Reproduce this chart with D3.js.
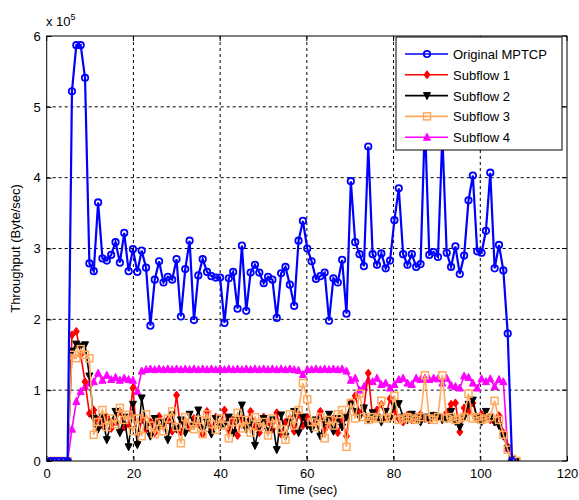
<!DOCTYPE html>
<html><head><meta charset="utf-8">
<script src="https://cdn.jsdelivr.net/npm/d3@7"></script>
<style>body{margin:0;background:#fff}svg{display:block;font-family:"Liberation Sans",Arial,sans-serif}</style>
</head><body><svg id="c" width="579" height="500"></svg>
<script>
// Data (throughput in units of 1e5 Byte/sec), sampled every ~1 s starting at t0
const t0 = 0.8, dt = 1.005;
const xTicks = [0, 20, 40, 60, 80, 100, 120];
const yTicks = [0, 1, 2, 3, 4, 5, 6];
const seriesNames = ["Original MPTCP", "Subflow 1", "Subflow 2", "Subflow 3", "Subflow 4"];
const original = [0,0,0,0,0, 5.22,5.87,5.87,5.41,2.79, 2.68,3.65,2.86,2.83,2.91, 3.09,2.80,3.22,2.68,2.99,
 2.67,2.97,2.73,1.91,2.56, 2.82,2.52,2.60,2.56,2.85, 2.04,2.71,3.11,1.99,2.62, 2.85,2.67,2.61,2.59,2.59,
 1.95,2.58,2.67,2.15,3.04, 2.12,2.66,2.77,2.66,2.51, 2.60,2.56,2.02,2.65,2.74, 2.49,2.19,3.11,3.39,3.00,
 2.82,2.57,2.61,2.66,1.98, 2.58,2.52,2.84,2.08,3.95, 3.09,2.92,2.75,4.44,2.92, 2.77,2.93,2.72,2.83,3.40,
 3.85,2.92,2.77,2.92,2.74, 2.78,4.80,2.91,2.95,2.88, 4.60,2.94,2.74,3.03,2.64, 2.90,3.68,4.03,2.96,2.94,
 3.25,4.07,2.72,3.05,2.69, 1.80,0];
const subflow1 = [0,0,0,0,0, 1.78,1.83,1.50,1.12,0.67, 0.72,0.58,0.50,0.62,0.46, 0.55,0.70,0.48,0.52,1.03,
 0.25,0.60,0.45,0.55,0.40, 0.63,0.50,0.58,0.42,0.93, 0.41,0.55,0.47,0.60,0.52, 0.38,0.70,0.45,0.62,0.50,
 0.72,0.44,0.58,0.36,0.60, 0.52,0.70,0.48,0.40,0.62, 0.55,0.45,0.68,0.38,0.55, 0.60,0.42,0.66,0.50,0.62,
 0.48,0.56,0.70,0.44,0.52, 0.60,0.40,0.58,0.35,0.82, 0.92,0.68,0.75,1.24,0.60, 0.72,0.80,0.62,0.88,0.70,
 0.60,0.55,0.65,0.58,0.62, 0.66,0.60,0.58,0.64,0.62, 0.60,0.68,0.80,0.82,0.41, 0.75,0.70,0.82,0.60,0.66,
 0.62,0.58,0.55,0.64,0.40, 0.20,0.04,0.0];
const subflow2 = [0,0,0,0,0, 1.55,1.65,1.62,1.64,1.20, 0.60,0.45,0.62,0.30,0.55, 0.70,0.40,0.62,0.20,0.80,
 0.23,0.89,0.50,0.35,0.60, 0.48,0.55,0.30,0.65,0.45, 0.58,0.40,0.66,0.50,0.72, 0.44,0.55,0.38,0.60,0.48,
 0.52,0.62,0.40,0.58,0.79, 0.45,0.55,0.22,0.50,0.60, 0.42,0.58,0.16,0.65,0.35, 0.55,0.70,0.40,0.62,0.50,
 0.45,0.58,0.35,0.55,0.66, 0.42,0.60,0.48,0.62,0.80, 0.70,0.62,0.75,0.58,0.68, 0.62,0.55,0.70,0.60,0.78,
 0.81,0.62,0.58,0.66,0.60, 0.55,0.62,0.58,0.64,0.62, 0.58,0.60,0.70,0.56,0.48, 0.62,0.80,0.86,0.60,0.55,
 0.70,0.62,0.55,0.50,0.35, 0.18,0.02,0.0];
const subflow3 = [0,0,0,0,0, 1.50,1.45,1.58,1.50,1.45, 0.37,0.55,0.72,0.48,0.60, 0.52,0.75,0.58,0.65,0.42,
 0.60,0.35,0.66,0.50,0.38, 0.55,0.42,0.60,0.70,0.48, 0.25,0.62,0.50,0.45,0.58, 0.38,0.66,0.52,0.44,0.60,
 0.50,0.32,0.55,0.68,0.46, 0.58,0.40,0.62,0.48,0.55, 0.36,0.60,0.52,0.45,0.30, 0.66,0.50,0.72,1.10,0.87,
 0.55,0.48,0.62,0.32,0.58, 0.50,0.66,0.72,0.20,0.82, 0.60,0.95,0.62,0.58,0.62, 0.60,0.85,0.60,0.62,0.92,
 0.58,0.60,0.62,0.60,0.58, 0.62,1.21,0.60,0.58,0.62, 1.21,0.60,0.62,0.58,0.60, 0.62,0.95,0.60,0.62,0.58,
 0.60,0.62,0.85,0.58,0.37, 0.16,0.03,0.0];
const subflow4 = [0,0,0,0,0, 0.45,0.84,0.98,1.05,1.10, 1.12,1.24,1.14,1.21,1.15, 1.18,1.14,1.17,1.15,1.14,
 0.98,1.27,1.29,1.30,1.29, 1.30,1.29,1.30,1.29,1.30, 1.29,1.30,1.29,1.30,1.29, 1.30,1.29,1.30,1.29,1.30,
 1.29,1.30,1.29,1.30,1.29, 1.30,1.29,1.30,1.29,1.30, 1.29,1.30,1.29,1.30,1.29, 1.30,1.29,1.28,1.22,1.29,
 1.29,1.30,1.29,1.30,1.29, 1.30,1.29,1.30,1.27,1.14, 1.17,1.00,1.05,1.14,1.12, 1.17,1.08,1.10,1.03,1.08,
 1.15,1.17,1.10,1.08,1.17, 1.15,1.17,1.15,1.17,1.16, 1.10,1.17,1.07,1.05,1.03, 1.20,1.18,1.10,1.03,1.16,
 1.12,1.16,1.05,1.15,1.12, 0.18,0.04,0.0];

const svg = d3.select("#c");
const m = {l: 46.7, r: 567, t: 36, b: 461};
const x = d3.scaleLinear().domain([0, 120]).range([m.l, m.r]);
const y = d3.scaleLinear().domain([0, 6]).range([m.b, m.t]);

// grid
const g = svg.append("g");
g.selectAll(".gx").data(xTicks.slice(1, -1)).join("line")
  .attr("x1", d => x(d)).attr("x2", d => x(d)).attr("y1", m.t).attr("y2", m.b)
  .attr("stroke", "#000").attr("stroke-width", 1).attr("stroke-dasharray", "3,3");
g.selectAll(".gy").data(yTicks.slice(1, -1)).join("line")
  .attr("x1", m.l).attr("x2", m.r).attr("y1", d => y(d)).attr("y2", d => y(d))
  .attr("stroke", "#000").attr("stroke-width", 1).attr("stroke-dasharray", "3,3");

// axes
const ax = svg.append("g").attr("transform", `translate(0,${m.b})`)
  .call(d3.axisBottom(x).tickValues(xTicks).tickFormat(d3.format("d")).tickSize(-5).tickPadding(8));
const ay = svg.append("g").attr("transform", `translate(${m.l},0)`)
  .call(d3.axisLeft(y).tickValues(yTicks).tickFormat(d3.format("d")).tickSize(-5).tickPadding(6));
[ax, ay].forEach(a => {
  a.select(".domain").remove();
  a.selectAll("line").attr("stroke", "#000");
  a.selectAll("text").attr("font-size", 13).attr("fill", "#000")
   .attr("font-family", '"Liberation Sans",Arial,sans-serif');
});
// top/right ticks
svg.append("g").selectAll("line").data(xTicks).join("line")
  .attr("x1", d => x(d)).attr("x2", d => x(d)).attr("y1", m.t).attr("y2", m.t + 5).attr("stroke", "#000");
svg.append("g").selectAll("line").data(yTicks).join("line")
  .attr("x1", m.r - 5).attr("x2", m.r).attr("y1", d => y(d)).attr("y2", d => y(d)).attr("stroke", "#000");

// clip
svg.append("clipPath").attr("id", "clip").append("rect")
  .attr("x", m.l).attr("y", m.t).attr("width", m.r - m.l).attr("height", m.b - m.t);

const colors = ["#0000ff", "#ff0000", "#000000", "#ffaa5e", "#ff00ff"];
const allData = [original, subflow1, subflow2, subflow3, subflow4];
const line = d3.line().x((d, i) => x(t0 + i * dt)).y(d => y(d));
const plot = svg.append("g").attr("clip-path", "url(#clip)");

function marker(sel, k, c) {
  if (k === 0) {
    sel.append("circle").attr("r", 3.2).attr("fill", "none").attr("stroke", c).attr("stroke-width", 1.8);
  } else if (k === 1) {
    sel.append("path").attr("d", "M0,-4L3,0L0,4L-3,0Z").attr("fill", c).attr("stroke", c).attr("stroke-width", 1);
  } else if (k === 2) {
    sel.append("path").attr("d", "M-3.5,-3L3.5,-3L0,4Z").attr("fill", c).attr("stroke", c).attr("stroke-width", 1);
  } else if (k === 3) {
    sel.append("rect").attr("x", -3.5).attr("y", -3.5).attr("width", 7).attr("height", 7)
      .attr("fill", "none").attr("stroke", c).attr("stroke-width", 1.5);
  } else {
    sel.append("path").attr("d", "M-3.5,3L3.5,3L0,-4Z").attr("fill", c).attr("stroke", c).attr("stroke-width", 1);
  }
}

const order = [4, 1, 2, 3, 0];
order.forEach(k => {
  const data = allData[k];
  const c = colors[k];
  plot.append("path").datum(data).attr("d", line).attr("fill", "none")
    .attr("stroke", c).attr("stroke-width", k === 0 ? 2.2 : 1.6);
  plot.append("g").selectAll("g").data(data).join("g")
    .attr("transform", (d, i) => `translate(${x(t0 + i * dt)},${y(d)})`)
    .each(function () { marker(d3.select(this), k, c); });
});

// frame
svg.append("rect").attr("x", m.l).attr("y", m.t).attr("width", m.r - m.l).attr("height", m.b - m.t)
  .attr("fill", "none").attr("stroke", "#000").attr("stroke-width", 1);

// exponent label
const ex = svg.append("text").attr("x", 46).attr("y", 26).attr("font-size", 13).attr("fill", "#000");
ex.append("tspan").text("x 10");
ex.append("tspan").attr("dy", -6).attr("font-size", 9).text("5");

// axis labels
svg.append("text").attr("x", (m.l + m.r) / 2).attr("y", 494).attr("text-anchor", "middle")
  .attr("font-size", 13).attr("fill", "#000").text("Time (sec)");
svg.append("text").attr("transform", `translate(20,${(m.t + m.b) / 2}) rotate(-90)`)
  .attr("text-anchor", "middle").attr("font-size", 13).attr("fill", "#000").text("Throughput (Byte/sec)");

// legend
const lg = svg.append("g");
lg.append("rect").attr("x", 396).attr("y", 37).attr("width", 166).attr("height", 113)
  .attr("fill", "#fff").attr("stroke", "#000").attr("stroke-width", 1);
seriesNames.forEach((name, k) => {
  const yy = 54 + k * 20.8;
  lg.append("line").attr("x1", 405).attr("x2", 448).attr("y1", yy).attr("y2", yy)
    .attr("stroke", colors[k]).attr("stroke-width", 1.6);
  const mg = lg.append("g").attr("transform", `translate(427,${yy})`);
  marker(mg, k, colors[k]);
  lg.append("text").attr("x", 453).attr("y", yy + 5).attr("font-size", 13).attr("fill", "#000").text(name);
});
</script></body></html>
